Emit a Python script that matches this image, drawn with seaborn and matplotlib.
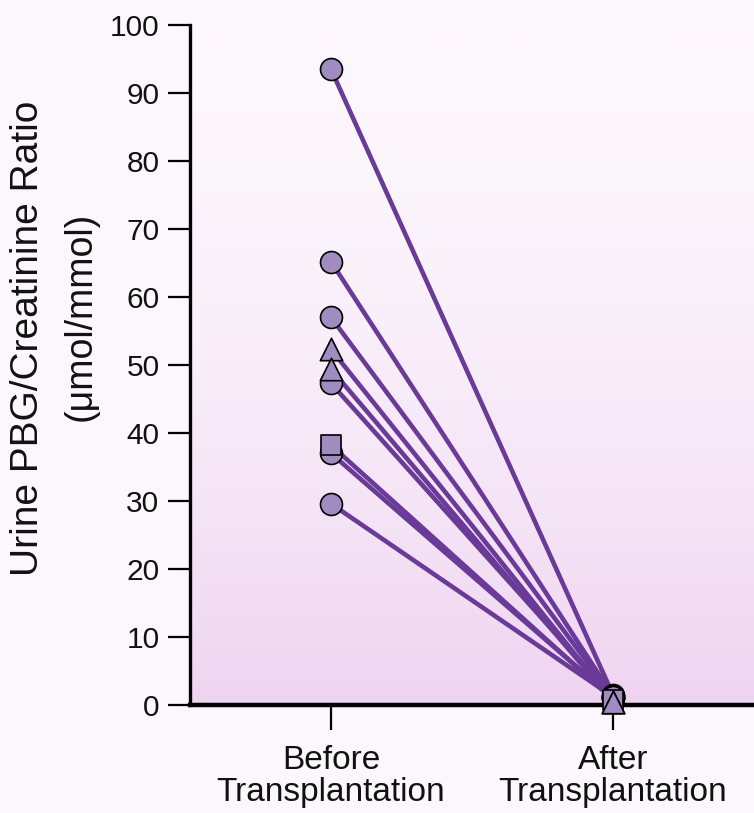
import numpy as np
import pandas as pd
import matplotlib
matplotlib.use("Agg")
import matplotlib.pyplot as plt
from matplotlib.colors import LinearSegmentedColormap
import seaborn as sns

# ── Data ──────────────────────────────────────────────────────────────
patients = ["P1", "P2", "P3", "P4", "P5", "P6", "P7", "P8", "P9"]
shapes = ["circle", "circle", "circle", "triangle", "triangle",
          "circle", "square", "circle", "circle"]
before = [93.5, 65.2, 57.0, 52.3, 49.4, 47.3, 38.2, 37.0, 29.6]
after = [1.5, 1.3, 1.2, 0.5, 0.5, 1.1, 0.8, 1.0, 1.2]
periods = ["Before\nTransplantation", "After\nTransplantation"]

df = pd.DataFrame({
    "patient": patients * 2,
    "shape": shapes * 2,
    "period": [0] * len(before) + [1] * len(after),
    "value": before + after,
})

line_color = "#6a3a98"
face_color = "#a18cc2"
bg_color = "#fcf7fd"
text_color = "#111111"

sns.set_theme(style="ticks")
plt.rcParams["font.family"] = ["Liberation Sans", "DejaVu Sans"]

fig = plt.figure(figsize=(7.54, 8.13), dpi=100, facecolor=bg_color)
ax = fig.add_axes([190 / 754, 108 / 813, 564 / 754, 680 / 813])

# vertical gradient behind the data, light on top, pink at the bottom
cmap = LinearSegmentedColormap.from_list("bg", ["#fdf8fd", "#efd4f1"])
grad = (np.linspace(0, 1, 256) ** 1.7).reshape(-1, 1)
ax.imshow(grad, extent=[-0.5, 1.5, 100, 0], cmap=cmap, aspect="auto",
          origin="lower", zorder=0)

sns.lineplot(data=df, x="period", y="value", units="patient", estimator=None,
             color=line_color, linewidth=3.3, ax=ax, zorder=2, legend=False)

marker_map = {"circle": "o", "triangle": "^", "square": "s"}
size_map = {"circle": 250, "triangle": 260, "square": 190}
for shp in ["circle", "square", "triangle"]:
    sub = df[df["shape"] == shp]
    sns.scatterplot(data=sub, x="period", y="value", marker=marker_map[shp],
                    s=size_map[shp], color=face_color, edgecolor="black",
                    linewidth=1.2, ax=ax, zorder=3, clip_on=False, legend=False)

ax.set_xlim(-0.5, 1.5)
ax.set_ylim(0, 100)
ax.set_facecolor(bg_color)
ax.set_xticks([0, 1])
ax.set_xticklabels(periods, fontsize=24, linespacing=1.05, color=text_color)
ax.set_yticks(range(0, 101, 10))
ax.tick_params(axis="y", labelsize=21.5, length=16, width=1.6, pad=6,
               color="black", labelcolor=text_color)
ax.tick_params(axis="x", length=18, width=1.6, pad=11, color="black")
ax.set_xlabel("")
ax.set_ylabel("")

for side in ["top", "right"]:
    ax.spines[side].set_visible(False)
ax.spines["left"].set_linewidth(2.4)
ax.spines["bottom"].set_linewidth(3.2)
ax.spines["left"].set_color("black")
ax.spines["bottom"].set_color("black")

fig.text(28 / 754, 1 - 338 / 813, "Urine PBG/Creatinine Ratio", rotation=90,
         ha="center", va="center", fontsize=28, color=text_color)
fig.text(81 / 754, 1 - 316 / 813, "(\u03bcmol/mmol)", rotation=90,
         ha="center", va="center", fontsize=27, color=text_color)

fig.savefig("out.png", dpi=100, facecolor=bg_color)
